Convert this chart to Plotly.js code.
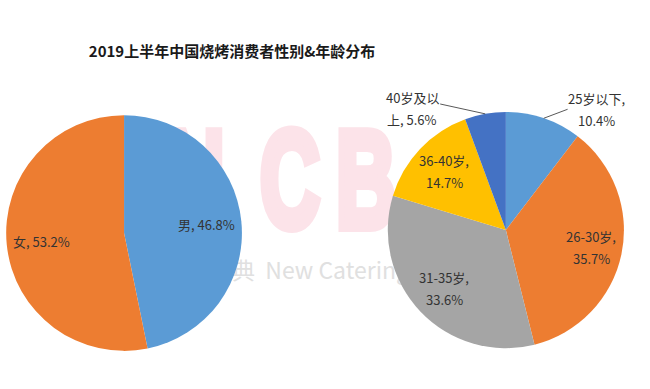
<!DOCTYPE html>
<html>
<head>
<meta charset="utf-8">
<script src="https://cdn.plot.ly/plotly-3.0.1.min.js"></script>
<style>html,body{margin:0;padding:0;background:#fff;}#chart{width:650px;height:389px;}</style>
</head>
<body>
<div id="chart"></div>
<script>
// ---- data ----
const title = '2019上半年中国烧烤消费者性别&年龄分布';
const genderLabels = ['男', '女'];
const genderValues = [46.8, 53.2];
const genderColors = ['#5B9BD5', '#ED7D31'];

const ageLabels = ['25岁以下', '26-30岁', '31-35岁', '36-40岁', '40岁及以上'];
const ageValues = [10.4, 35.7, 33.6, 14.7, 5.6];
const ageColors = ['#5B9BD5', '#ED7D31', '#A5A5A5', '#FFC000', '#4472C4'];

// label text lines (as wrapped in the original)
const genderLines = genderLabels.map((l, i) => [l + ', ' + genderValues[i].toFixed(1) + '%']);
const ageLines = [
  ['25岁以下,', '10.4%'],
  ['26-30岁,', '35.7%'],
  ['31-35岁,', '33.6%'],
  ['36-40岁,', '14.7%'],
  ['40岁及以', '上, 5.6%']
];

const watermarkLetters = ['N', 'C', 'B'];
const watermarkSub = '餐宝典  New Catering';

// ---- style ----
const font = '"Noto Sans CJK SC", "Microsoft YaHei", sans-serif';
const W = 650, H = 389;
const labelColor = '#333333';
const labelSize = 13;
const lineGap = 22;
const genderLabelR = [0.70, 0.70];
const ageLabelR = [null, 0.74, 0.72, 0.72, null];
const ageOutside = [ {dx: 53, dy: -9}, null, null, null, {dx: -73, dy: -5} ];
const wmPink = '#FCE3E9';

const domains = [
  {x: [0.0077, 0.374], y: [0.098, 0.704]},
  {x: [0.595, 0.9615], y: [0.105, 0.712]}
];

const pieBase = {
  type: 'pie',
  textinfo: 'none',
  hoverinfo: 'label+percent',
  sort: false,
  direction: 'clockwise',
  rotation: 0,
  showlegend: false
};

const traces = [
  {
    type: 'scatter', mode: 'text', xaxis: 'x', yaxis: 'y',
    x: [195, 290, 366], y: [193, 193, 193],
    text: watermarkLetters.map(s => '<b>' + s + '</b>'),
    textposition: 'middle center',
    textfont: {family: '"Liberation Sans", Arial, sans-serif', size: 138, color: wmPink},
    hoverinfo: 'skip', showlegend: false
  },
  {
    type: 'scatter', mode: 'text', xaxis: 'x', yaxis: 'y',
    x: [186], y: [273],
    text: [watermarkSub],
    textposition: 'middle right',
    textfont: {family: font, size: 23, color: '#E0E0E0'},
    hoverinfo: 'skip', showlegend: false
  },
  Object.assign({}, pieBase, {
    labels: genderLabels, values: genderValues,
    marker: {colors: genderColors},
    domain: domains[0]
  }),
  Object.assign({}, pieBase, {
    labels: ageLabels, values: ageValues,
    marker: {colors: ageColors},
    domain: domains[1]
  })
];

const layout = {
  width: W,
  height: H,
  margin: {l: 0, r: 0, t: 0, b: 0},
  paper_bgcolor: '#ffffff',
  plot_bgcolor: 'rgba(0,0,0,0)',
  xaxis: {range: [0, W], visible: false, fixedrange: true},
  yaxis: {range: [H, 0], visible: false, fixedrange: true},
  title: {
    text: '<b>' + title + '</b>',
    font: {family: font, size: 15, color: '#1a1a1a'},
    x: 0.357, xanchor: 'center', y: 0.866, yanchor: 'middle'
  },
  showlegend: false
};

function pieGeom(gd, traceIdx, dom) {
  const cd = gd.calcdata && gd.calcdata[traceIdx] && gd.calcdata[traceIdx][0];
  if (cd && isFinite(cd.cx) && isFinite(cd.r)) return {cx: cd.cx, cy: cd.cy, r: cd.r};
  const x0 = dom.x[0] * W, x1 = dom.x[1] * W;
  const y0 = (1 - dom.y[1]) * H, y1 = (1 - dom.y[0]) * H;
  return {cx: (x0 + x1) / 2, cy: (y0 + y1) / 2, r: Math.min(x1 - x0, y1 - y0) / 2};
}

function labelAnnotations(geom, values, lines, rFrac, outside) {
  const total = values.reduce((a, b) => a + b, 0);
  let cum = 0;
  const anns = [];
  values.forEach((v, i) => {
    const mid = (cum + v / 2) / total * 2 * Math.PI;
    cum += v;
    const sx = Math.sin(mid), sy = -Math.cos(mid);
    const n = lines[i].length;
    if (outside && outside[i]) {
      const px = geom.cx + geom.r * sx, py = geom.cy + geom.r * sy;
      const tx = px + outside[i].dx, ty = py + outside[i].dy;
      lines[i].forEach((t, k) => {
        const ly = ty + (k - (n - 1) / 2) * lineGap;
        const a = {
          text: t, xref: 'x', yref: 'y',
          font: {family: font, size: labelSize, color: labelColor},
          xanchor: 'center', yanchor: 'middle'
        };
        if (k === 0) {
          Object.assign(a, {x: px, y: py, showarrow: true, arrowhead: 0, arrowwidth: 1,
            arrowcolor: '#595959', axref: 'pixel', ayref: 'pixel',
            ax: tx - px, ay: ly - py, standoff: 0, startstandoff: 0});
        } else {
          Object.assign(a, {x: tx, y: ly, showarrow: false});
        }
        anns.push(a);
      });
    } else {
      const rr = geom.r * rFrac[i];
      const tx = geom.cx + rr * sx, ty = geom.cy + rr * sy;
      lines[i].forEach((t, k) => {
        anns.push({
          text: t, xref: 'x', yref: 'y', x: tx, y: ty + (k - (n - 1) / 2) * lineGap,
          showarrow: false, xanchor: 'center', yanchor: 'middle',
          font: {family: font, size: labelSize, color: labelColor}
        });
      });
    }
  });
  return anns;
}

function condenseWatermark(gd) {
  const tr = gd.querySelectorAll('.scatterlayer .trace')[0];
  if (!tr) return;
  tr.querySelectorAll('text').forEach(t => {
    const x = parseFloat(t.getAttribute('x')) || 0;
    const y = parseFloat(t.getAttribute('y')) || 0;
    t.setAttribute('transform', 'translate(' + x + ',' + y + ') scale(0.6,1) translate(' + (-x) + ',' + (-y) + ')');
    t.style.stroke = wmPink;
    t.style.strokeWidth = '10px';
    t.style.strokeLinejoin = 'miter';
  });
}

const gd = document.getElementById('chart');
Plotly.newPlot(gd, traces, layout, {displayModeBar: false, staticPlot: true}).then(() => {
  const g0 = pieGeom(gd, 2, domains[0]);
  const g1 = pieGeom(gd, 3, domains[1]);
  const anns = labelAnnotations(g0, genderValues, genderLines, genderLabelR, null)
    .concat(labelAnnotations(g1, ageValues, ageLines, ageLabelR, ageOutside));
  return Plotly.relayout(gd, {annotations: anns});
}).then(() => condenseWatermark(gd));
</script>
</body>
</html>
